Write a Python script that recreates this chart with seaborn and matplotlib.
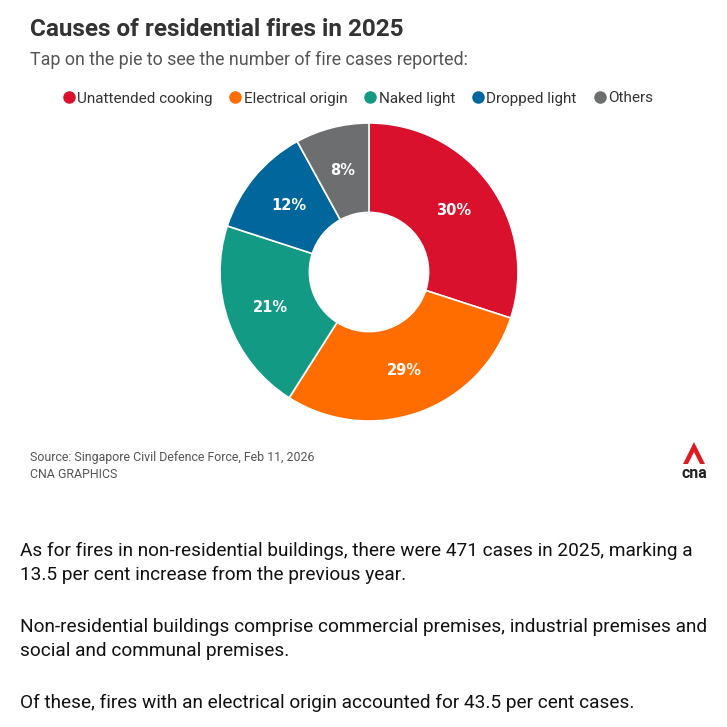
import matplotlib
matplotlib.use("Agg")
import matplotlib.pyplot as plt
from matplotlib import font_manager
from matplotlib.lines import Line2D
from matplotlib.patches import Polygon
import seaborn as sns

causes = ["Unattended cooking", "Electrical origin", "Naked light", "Dropped light", "Others"]
shares = [30, 29, 21, 12, 8]
colors = ["#DA112D", "#FF6D00", "#129A85", "#00669C", "#6D6E70"]

title = "Causes of residential fires in 2025"
subtitle = "Tap on the pie to see the number of fire cases reported:"
source = "Source: Singapore Civil Defence Force, Feb 11, 2026"
credit = "CNA GRAPHICS"
body = [
    "As for fires in non-residential buildings, there were 471 cases in 2025, marking a\n13.5 per cent increase from the previous year.",
    "Non-residential buildings comprise commercial premises, industrial premises and\nsocial and communal premises.",
    "Of these, fires with an electrical origin accounted for 43.5 per cent cases.",
]

sns.set_style("white")
installed = {f.name for f in font_manager.fontManager.ttflist}
narrow = "Liberation Sans Narrow" if "Liberation Sans Narrow" in installed else "Roboto"
plt.rcParams["font.family"] = [narrow, "DejaVu Sans"]

W = H = 727
fig = plt.figure(figsize=(7.27, 7.27), dpi=100)
fig.patch.set_facecolor("white")


def fx(px):
    return px / W


def fy(py):
    return 1 - py / H


# donut
cx, cy, r = 369, 272, 149
ax = fig.add_axes([fx(cx - r), fy(cy + r), 2 * r / W, 2 * r / H])
wedges, _, autotexts = ax.pie(
    shares, colors=sns.color_palette(colors), startangle=90, counterclock=False,
    wedgeprops=dict(width=0.6, edgecolor="white", linewidth=1.2),
    autopct=lambda p: f"{p:.0f}%", pctdistance=0.7,
    textprops=dict(color="white", fontsize=10.5, fontweight="bold", family="DejaVu Sans"),
)
ax.set_xlim(-1, 1)
ax.set_ylim(-1, 1)
ax.set_aspect("equal")
ax.axis("off")

# header
fig.text(fx(30), fy(30), title, fontsize=17.5, fontweight="bold", color="#333333", va="center")
fig.text(fx(30), fy(60), subtitle, fontsize=12.9, color="#555555", va="center")

handles = [Line2D([0], [0], marker="o", linestyle="", markersize=8,
                  markerfacecolor=c, markeredgecolor=c) for c in colors]
leg = fig.legend(handles, causes, loc="center", bbox_to_anchor=(fx(357), fy(98.5)),
                 ncol=5, frameon=False, handletextpad=0.05, columnspacing=1.0,
                 handlelength=1.0, fontsize=11)
for t in leg.get_texts():
    t.set_color("#333333")

# footer
fig.text(fx(30), fy(458), source, fontsize=8.9, color="#555555", va="center")
fig.text(fx(30), fy(474), credit, fontsize=8.9, color="#555555", va="center")

# logo
logo = [(683, 464), (694, 442), (705, 464), (700, 464), (694, 452), (688, 464)]
fig.patches.append(Polygon([(fx(x), fy(y)) for x, y in logo], closed=True,
                           transform=fig.transFigure, facecolor="#E11B22", edgecolor="none"))
fig.text(fx(694), fy(473), "cna", fontsize=11.5, fontweight="bold", color="#222222",
         ha="center", va="center")

# body text
for txt, y in zip(body, [563, 639, 703]):
    fig.text(fx(20), fy(y), txt, fontsize=13.65, color="#111111", va="center", linespacing=1.37)

fig.savefig("out.png", dpi=100, facecolor="white")
